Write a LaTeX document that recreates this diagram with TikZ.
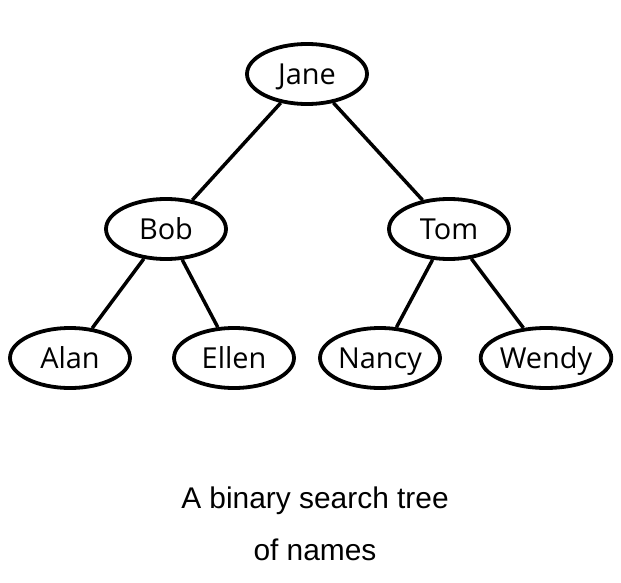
\documentclass[tikz,border=0pt]{standalone}
\usepackage{fontspec}
\setmainfont{Liberation Sans}
\newfontfamily\treefont{Open Sans}
\usetikzlibrary{shapes.geometric}

\begin{document}
\begin{tikzpicture}[x=1bp,y=-1bp,
  person/.style={ellipse, draw, line width=3.8bp, minimum width=120bp, minimum height=60bp, inner sep=0pt, text height=20.5bp, text depth=0pt, font=\treefont\fontsize{29}{32}\selectfont},
  link/.style={line width=3.5bp}]
\useasboundingbox (0,0) rectangle (621,583);
% the tree
\node[person] (jane) at (307,74) {Jane};
\node[person] (bob) at (166,229) {Bob};
\node[person] (tom) at (449,229) {Tom};
\node[person] (alan) at (70,358) {Alan};
\node[person] (ellen) at (234,358) {Ellen};
\node[person] (nancy) at (380,358) {Nancy};
\node[person] (wendy) at (546,358) {Wendy};
\draw[link] (jane) -- (bob);
\draw[link] (jane) -- (tom);
\draw[link] (bob) -- (alan);
\draw[link] (bob) -- (ellen);
\draw[link] (tom) -- (nancy);
\draw[link] (tom) -- (wendy);
% caption
\node[font=\fontsize{30}{32}\selectfont] (title) at (315,501) {A binary search tree};
\node[font=\fontsize{30}{32}\selectfont] (subtitle) at (315,550) {of names};
\end{tikzpicture}
\end{document}
